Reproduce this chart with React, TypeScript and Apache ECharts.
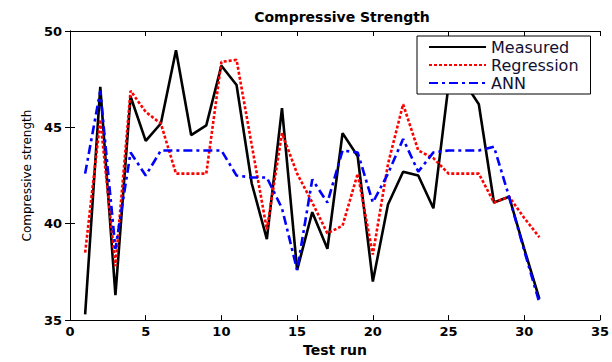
import React, { useEffect, useRef } from "react";
import * as echarts from "echarts";

const testRuns = [1, 2, 3, 4, 5, 6, 7, 8, 9, 10, 11, 12, 13, 14, 15, 16, 17, 18, 19, 20, 21, 22, 23, 24, 25, 26, 27, 28, 29, 30, 31];
const measured = [35.3, 47.1, 36.3, 46.6, 44.3, 45.2, 49.0, 44.6, 45.1, 48.2, 47.2, 42.1, 39.2, 46.0, 37.6, 40.6, 38.7, 44.7, 43.5, 37.0, 41.0, 42.7, 42.5, 40.8, 47.2, 47.4, 46.2, 41.1, 41.4, 38.7, 36.1];
const regression = [38.5, 45.4, 37.8, 46.9, 45.8, 45.2, 42.6, 42.6, 42.6, 48.4, 48.5, 44.1, 39.7, 44.7, 42.6, 41.1, 39.5, 39.9, 42.6, 38.4, 43.1, 46.2, 43.8, 43.4, 42.6, 42.6, 42.6, 41.1, 41.4, 40.3, 39.3];
const ann = [42.6, 46.9, 38.7, 43.7, 42.5, 43.8, 43.8, 43.8, 43.8, 43.8, 42.5, 42.4, 42.4, 40.8, 37.6, 42.3, 41.1, 43.8, 43.7, 41.1, 42.6, 44.4, 42.7, 43.7, 43.8, 43.8, 43.8, 44.0, 41.4, 38.6, 35.9];
const seriesNames = ["Measured", "Regression", "ANN"];

const FONT = "DejaVu Sans";

export default function App() {
  const ref = useRef<HTMLDivElement>(null);
  useEffect(() => {
    if (!ref.current) return;
    const chart = echarts.init(ref.current, null, { renderer: "svg" });
    const pair = (vals: number[]) => testRuns.map((x, i) => [x, vals[i]]);
    const axisLine = { show: true, lineStyle: { color: "#000", width: 1 } };
    const tick = { show: true, inside: true, length: 5, lineStyle: { color: "#000" } };
    const label = { color: "#000", fontFamily: FONT, fontWeight: "bold" as const, fontSize: 13 };
    chart.setOption({
      animation: false,
      backgroundColor: "#fff",
      title: {
        text: "Compressive Strength",
        left: 337,
        top: 5,
        textAlign: "center",
        textStyle: { fontFamily: FONT, fontWeight: "bold", fontSize: 14, color: "#000" },
      },
      grid: { left: 70, right: 8, top: 31, bottom: 35, containLabel: false },
      legend: {
        orient: "vertical",
        left: 417,
        top: 36,
        padding: [3, 12, 3, 11],
        itemWidth: 57,
        itemHeight: 14,
        itemGap: 2,
        backgroundColor: "#fff",
        borderColor: "#000",
        borderWidth: 1,
        borderRadius: 0,
        textStyle: { fontFamily: FONT, fontSize: 16, color: "#111133", lineHeight: 16 },
        data: seriesNames.map((n) => ({ name: n, itemStyle: { opacity: 0 } })),
      },
      xAxis: [
        {
          type: "value",
          min: 0,
          max: 35,
          interval: 5,
          name: "Test run",
          nameLocation: "middle",
          nameGap: 18,
          nameTextStyle: { fontFamily: FONT, fontWeight: "bold", fontSize: 14, color: "#000" },
          axisLine,
          axisTick: tick,
          axisLabel: { ...label, margin: 5 },
          splitLine: { show: false },
        },
        {
          type: "value",
          position: "top",
          min: 0,
          max: 35,
          interval: 5,
          axisLine,
          axisTick: tick,
          axisLabel: { show: false },
          splitLine: { show: false },
        },
      ],
      yAxis: [
        {
          type: "value",
          min: 35,
          max: 50,
          interval: 5,
          name: "Compressive strength",
          nameLocation: "middle",
          nameGap: 37,
          nameRotate: 90,
          nameTextStyle: { fontFamily: FONT, fontSize: 12, color: "#000" },
          axisLine,
          axisTick: tick,
          axisLabel: { ...label, margin: 8 },
          splitLine: { show: false },
        },
        {
          type: "value",
          position: "right",
          min: 35,
          max: 50,
          interval: 5,
          axisLine,
          axisTick: tick,
          axisLabel: { show: false },
          splitLine: { show: false },
        },
      ],
      series: [
        {
          name: seriesNames[0],
          type: "line",
          xAxisIndex: 0,
          yAxisIndex: 0,
          data: pair(measured),
          symbol: "none",
          color: "#000",
          lineStyle: { color: "#000", width: 2.6, type: "solid" },
        },
        {
          name: seriesNames[1],
          type: "line",
          xAxisIndex: 0,
          yAxisIndex: 0,
          data: pair(regression),
          symbol: "none",
          color: "#ff0000",
          lineStyle: { color: "#ff0000", width: 2.6, type: [3, 2] },
        },
        {
          name: seriesNames[2],
          type: "line",
          xAxisIndex: 0,
          yAxisIndex: 0,
          data: pair(ann),
          symbol: "none",
          color: "#0000ff",
          lineStyle: { color: "#0000ff", width: 2.6, type: [9, 4, 3, 4] },
        },
      ],
    });
    return () => chart.dispose();
  }, []);
  return (
    <div
      ref={ref}
      style={{ position: "absolute", left: 0, top: 0, width: 612, height: 362 }}
    />
  );
}
